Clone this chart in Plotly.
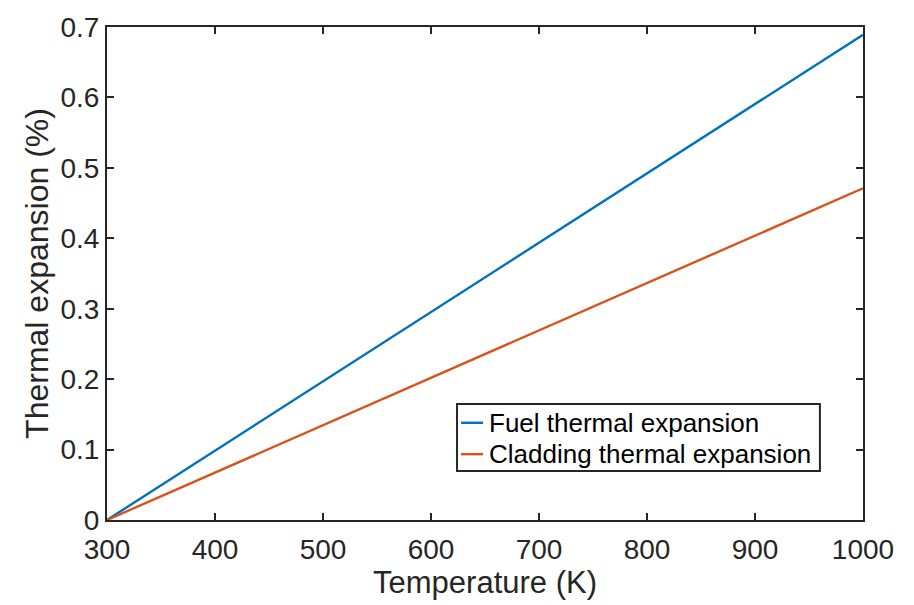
import plotly.graph_objects as go

# Temperature range (K) and linear thermal expansion (%) of fuel and cladding
temperature = [300, 1000]
fuel_expansion = [0.0, 0.689]
cladding_expansion = [0.0, 0.471]

series_names = ["Fuel thermal expansion", "Cladding thermal expansion"]
series_colors = ["#0072BD", "#D95319"]

x_ticks = [300, 400, 500, 600, 700, 800, 900, 1000]
y_ticks = [0, 0.1, 0.2, 0.3, 0.4, 0.5, 0.6, 0.7]

FONT = "Liberation Sans, Arial, Helvetica, sans-serif"
AXIS_COLOR = "#262626"

fig = go.Figure()
for name, color, values in zip(series_names, series_colors,
                               [fuel_expansion, cladding_expansion]):
    fig.add_trace(go.Scatter(x=temperature, y=values, mode="lines", name=name,
                             line=dict(color=color, width=2.4), showlegend=False))

axis_common = dict(showgrid=False, zeroline=False, showline=True, mirror="ticks",
                   linecolor=AXIS_COLOR, linewidth=2, ticks="inside", ticklen=7,
                   tickwidth=2, tickcolor=AXIS_COLOR,
                   tickfont=dict(family=FONT, size=28, color=AXIS_COLOR))

fig.update_xaxes(range=[300, 1000], tickvals=x_ticks,
                 ticktext=[str(v) for v in x_ticks], ticklabelstandoff=3,
                 title=dict(text="Temperature (K)", font=dict(family=FONT, size=31, color=AXIS_COLOR),
                            standoff=6),
                 **axis_common)
fig.update_yaxes(range=[0, 0.7], tickvals=y_ticks,
                 ticktext=["0"] + [f"{v:.1f}" for v in y_ticks[1:]],
                 title=dict(text="Thermal expansion (%)", font=dict(family=FONT, size=32, color=AXIS_COLOR),
                            standoff=2),
                 **axis_common)

# Boxed legend in the lower right of the axes (paper coordinates)
box_x0, box_x1, box_y0, box_y1 = 0.463, 0.943, 0.0996, 0.2351
row_y = [0.1972, 0.1335]
seg_x0, seg_x1, text_x = 0.4683, 0.4974, 0.5026

fig.add_shape(type="rect", xref="paper", yref="paper",
              x0=box_x0, x1=box_x1, y0=box_y0, y1=box_y1,
              line=dict(color=AXIS_COLOR, width=2), fillcolor="white", layer="above")
for name, color, ry in zip(series_names, series_colors, row_y):
    fig.add_shape(type="line", xref="paper", yref="paper",
                  x0=seg_x0, x1=seg_x1, y0=ry, y1=ry,
                  line=dict(color=color, width=2.4), layer="above")
    fig.add_annotation(xref="paper", yref="paper", x=text_x, y=ry,
                       xanchor="left", yanchor="middle", showarrow=False,
                       text=name, font=dict(family=FONT, size=26, color="#000000"))

fig.update_layout(
    width=914, height=605,
    margin=dict(l=107, r=51, t=18, b=85),
    paper_bgcolor="white", plot_bgcolor="white",
    showlegend=False,
)

fig.write_html("out.html")
